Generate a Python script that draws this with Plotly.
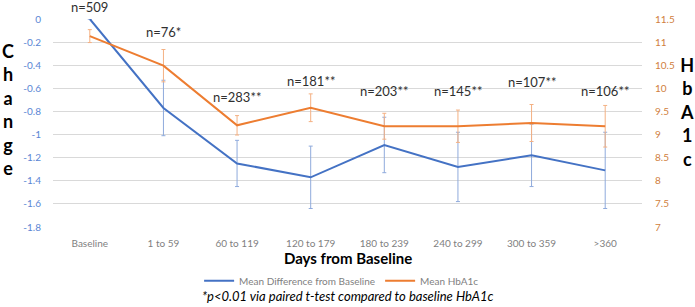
import plotly.graph_objects as go

categories = ["Baseline", "1 to 59", "60 to 119", "120 to 179", "180 to 239", "240 to 299", "300 to 359", ">360"]
mean_diff = [0, -0.77, -1.25, -1.37, -1.09, -1.28, -1.18, -1.31]
mean_diff_err = [0, 0.24, 0.20, 0.27, 0.24, 0.30, 0.27, 0.33]
mean_hba1c = [11.13, 10.49, 9.20, 9.58, 9.18, 9.18, 9.25, 9.18]
mean_hba1c_err = [0.14, 0.35, 0.21, 0.30, 0.28, 0.35, 0.40, 0.45]
n_labels = ["n=509", "n=76*", "n=283**", "n=181**", "n=203**", "n=145**", "n=107**", "n=106**"]
n_label_y = [11.67, 11.14, 9.73, 10.08, 9.85, 9.85, 10.04, 9.85]

left_ticks = [0, -0.2, -0.4, -0.6, -0.8, -1, -1.2, -1.4, -1.6, -1.8]
left_ticktext = ["0", "-0.2", "-0.4", "-0.6", "-0.8", "-1", "-1.2", "-1.4", "-1.6", "-1.8"]
right_ticks = [7, 7.5, 8, 8.5, 9, 9.5, 10, 10.5, 11, 11.5]
right_ticktext = ["7", "7.5", "8", "8.5", "9", "9.5", "10", "10.5", "11", "11.5"]

FONT = "Lato"
BLUE = "#4472C4"
ORANGE = "#ED7D31"
Y2_MIN, Y2_MAX = 7, 11.5

fig = go.Figure()
fig.add_trace(go.Scatter(
    x=categories, y=mean_diff, mode="lines", name="Mean Difference from Baseline",
    line=dict(color=BLUE, width=2),
    error_y=dict(type="data", array=mean_diff_err, visible=True, color="#8faadc", thickness=1, width=2),
    yaxis="y",
))
fig.add_trace(go.Scatter(
    x=categories, y=mean_hba1c, mode="lines", name="Mean HbA1c",
    line=dict(color=ORANGE, width=2),
    error_y=dict(type="data", array=mean_hba1c_err, visible=True, color="#f4b183", thickness=1, width=2),
    yaxis="y2",
))

for c, t, yv in zip(categories, n_labels, n_label_y):
    fig.add_annotation(x=c, y=(yv - Y2_MIN) / (Y2_MAX - Y2_MIN), xref="x", yref="paper", text=t,
                       showarrow=False, yanchor="middle", yshift=4,
                       font=dict(family=FONT, size=13, color="#303030"))

fig.add_annotation(x=-0.0764, y=0.563, xref="paper", yref="paper", showarrow=False,
                   text="<b>C<br>h<br>a<br>n<br>g<br>e</b>", font=dict(family=FONT, size=18, color="black"),
                   xanchor="center", yanchor="middle")
fig.add_annotation(x=1.0764, y=0.552, xref="paper", yref="paper", showarrow=False,
                   text="<b>H<br>b<br>A<br>1<br>c</b>", font=dict(family=FONT, size=18, color="black"),
                   xanchor="center", yanchor="middle")
fig.add_annotation(x=0.5, y=(227 - 259) / 213, xref="paper", yref="paper", showarrow=False,
                   text="<b>Days from Baseline</b>", font=dict(family=FONT, size=15, color="black"),
                   xanchor="center", yanchor="middle")
fig.add_annotation(x=0.5, y=(227 - 298) / 213, xref="paper", yref="paper", showarrow=False,
                   text="<i>*p<0.01 via paired t-test compared to baseline HbA1c</i>",
                   font=dict(family=FONT, size=13, color="black"),
                   xanchor="center", yanchor="middle")

fig.update_layout(
    width=695, height=307,
    margin=dict(l=53, r=53, t=14, b=80),
    paper_bgcolor="white", plot_bgcolor="white",
    font=dict(family=FONT),
    showlegend=True,
    legend=dict(orientation="h", x=0.49, xanchor="center", y=(227 - 282) / 213, yanchor="middle",
                font=dict(family=FONT, size=10, color="#7f7f7f"), itemwidth=30,
                tracegroupgap=0, bgcolor="rgba(0,0,0,0)"),
    xaxis=dict(type="category", range=[-0.5, 7.5], showgrid=False, zeroline=False, showline=False,
               ticks="outside", ticklen=7, tickcolor="rgba(0,0,0,0)",
               tickfont=dict(family=FONT, size=10, color="#7f7f7f")),
    yaxis=dict(range=[-1.8, 0], tickvals=left_ticks, ticktext=left_ticktext,
               showgrid=True, gridcolor="#d9d9d9", gridwidth=1, zeroline=False, showline=False,
               ticks="outside", ticklen=9, tickcolor="rgba(0,0,0,0)",
               tickfont=dict(family=FONT, size=10, color="#5b86d4")),
    yaxis2=dict(range=[Y2_MIN, Y2_MAX], tickvals=right_ticks, ticktext=right_ticktext, overlaying="y", side="right",
                showgrid=False, zeroline=False, showline=False,
                ticks="outside", ticklen=10, tickcolor="rgba(0,0,0,0)",
                tickfont=dict(family=FONT, size=10, color="#d08040")),
)

fig.write_html("out.html")
